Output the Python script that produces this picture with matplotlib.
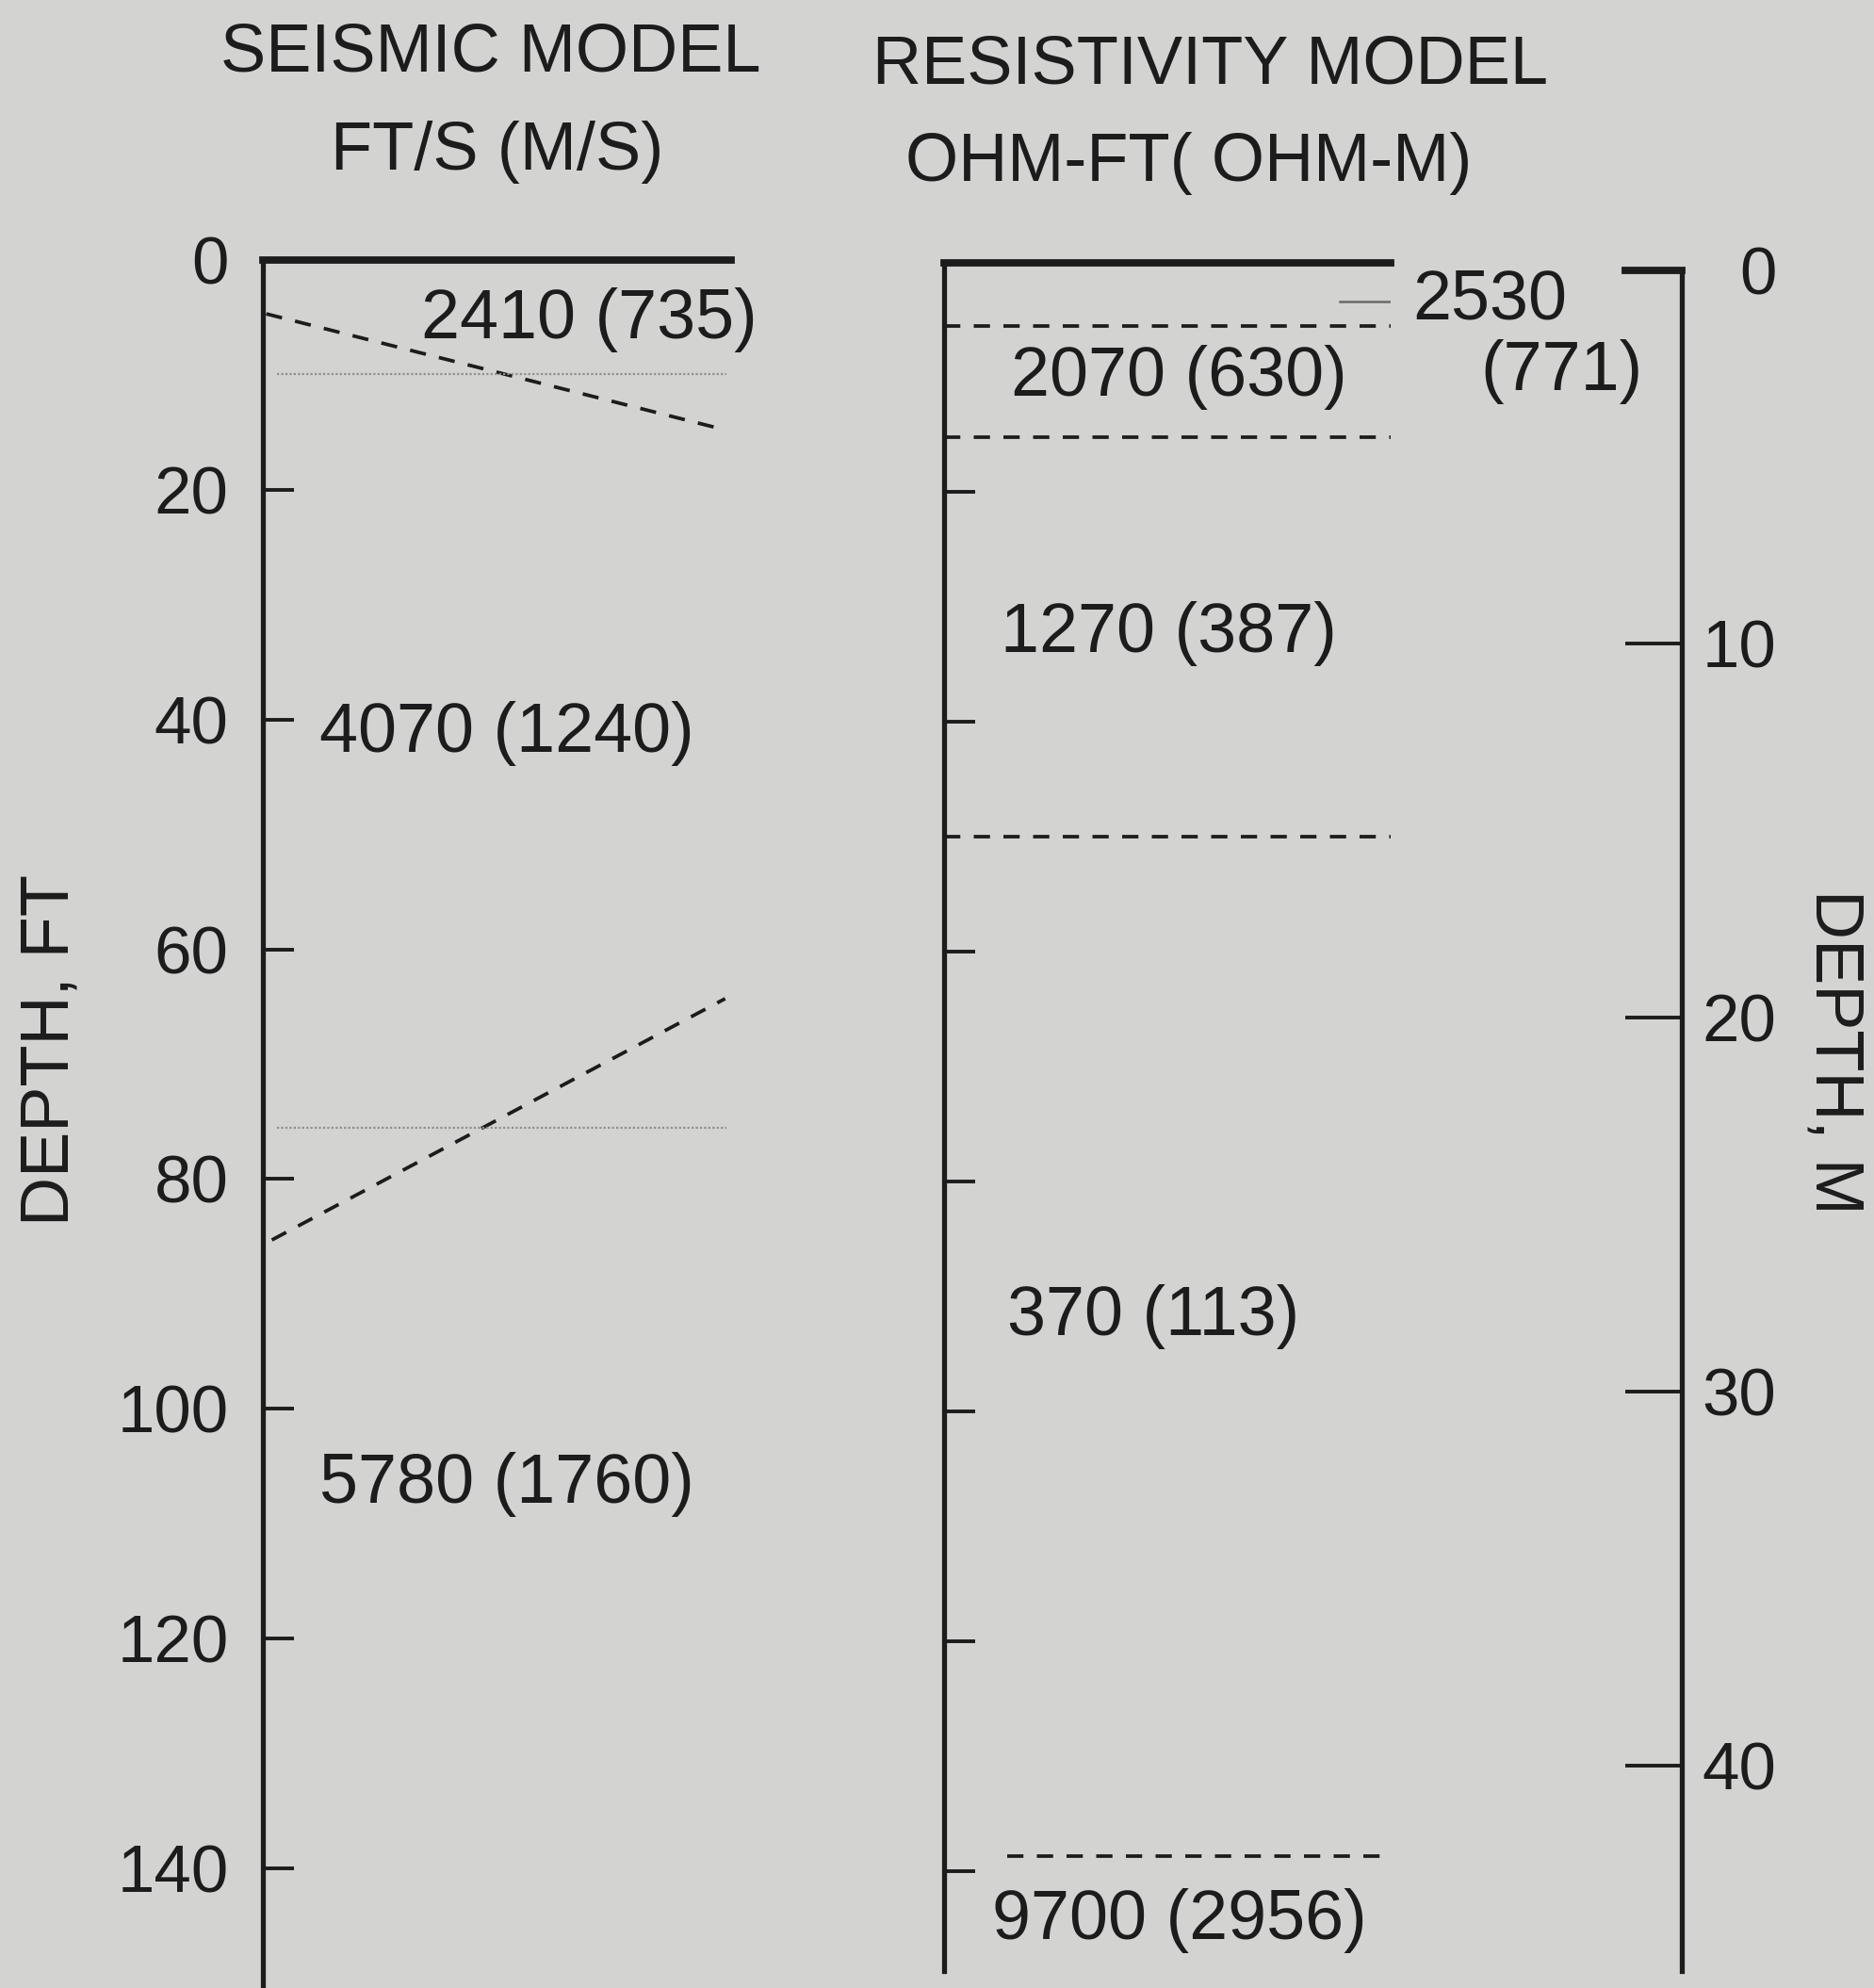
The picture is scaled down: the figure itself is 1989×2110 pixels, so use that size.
import matplotlib
matplotlib.use("Agg")
import matplotlib.pyplot as plt

plt.rcParams['font.family'] = ['Liberation Sans', 'DejaVu Sans']

BG = '#d3d3d1'
INK = '#1c1c1c'

# depth scales
ft_ticks = [0, 20, 40, 60, 80, 100, 120, 140]
m_ticks = [0, 10, 20, 30, 40]

# seismic model: dipping refractors (x as fraction of track width, depth in ft)
seis_dip_x = [[0.008, 0.987], [0.02, 0.987]]
seis_dip_z = [[4.7, 14.8], [85.3, 64.3]]
seis_flat_z = [9.9, 75.5]          # mean refractor depths
seis_labels = ['2410 (735)', '4070 (1240)', '5780 (1760)']
seis_label_x = [0.697, 0.522, 0.522]
seis_label_z = [5.2, 41.2, 106.6]

# resistivity model: layer boundaries (ft)
res_bound_z = [5.5, 15.2, 50.0, 138.7]
res_bound_x0 = [0.0, 0.0, 0.0, 0.141]
res_thin_z = 3.4
res_labels = ['2070 (630)', '1270 (387)', '370 (113)', '9700 (2956)', '2530', '(771)']
res_label_x = [0.526, 0.503, 0.469, 0.526, 1.222, 1.383]
res_label_z = [10.0, 32.3, 91.7, 144.3, 3.3, 9.5]

FS = 53

fig = plt.figure(figsize=(19.9, 21.1), dpi=100, facecolor=BG)

# --- seismic track ---
ax1 = fig.add_axes([0.140, 0.0, 0.250, 0.8693])
ax1.set_facecolor('none')
ax1.set_xlim(0, 1)
ax1.set_ylim(150.4, 0)
for s in ['right', 'bottom']:
    ax1.spines[s].set_visible(False)
ax1.spines['left'].set_linewidth(3.8)
ax1.spines['top'].set_linewidth(5.6)
for s in ['left', 'top']:
    ax1.spines[s].set_color(INK)
ax1.set_xticks([])
ax1.set_yticks(ft_ticks)
ax1.tick_params(axis='y', direction='in', length=24, width=2.8, pad=26,
                labelsize=FS - 2, colors=INK)

for xs, zs in zip(seis_dip_x, seis_dip_z):
    ax1.plot(xs, zs, color=INK, lw=2.7, linestyle=(0, (4.6, 3.8)))
for z in seis_flat_z:
    ax1.plot([0.03, 0.99], [z, z], color='#8f8f8d', lw=1.6, linestyle=(0, (1, 1)))
for t, x, z in zip(seis_labels, seis_label_x, seis_label_z):
    ax1.text(x, z, t, ha='center', va='center', fontsize=FS, color=INK)

# --- resistivity track ---
ax2 = fig.add_axes([0.5037, 0.0083, 0.238, 0.8597])
ax2.set_facecolor('none')
ax2.set_xlim(0, 1)
ax2.set_ylim(148.7, 0)
for s in ['right', 'bottom']:
    ax2.spines[s].set_visible(False)
ax2.spines['left'].set_linewidth(3.8)
ax2.spines['top'].set_linewidth(5.6)
for s in ['left', 'top']:
    ax2.spines[s].set_color(INK)
ax2.set_xticks([])
ax2.set_yticks(ft_ticks[1:])
ax2.tick_params(axis='y', direction='in', length=24, width=2.8,
                labelleft=False, colors=INK)

for z, x0 in zip(res_bound_z, res_bound_x0):
    ax2.plot([x0, 1.0], [z, z], color=INK, lw=2.7, linestyle=(0, (4.6, 3.8)))
ax2.plot([0.886, 1.0], [res_thin_z, res_thin_z], color='#6a6a68', lw=1.8)
for t, x, z in zip(res_labels, res_label_x, res_label_z):
    ax2.text(x, z, t, ha='center', va='center', fontsize=FS, color=INK,
             clip_on=False)

# --- metre scale ---
ax3 = fig.add_axes([0.8668, 0.0083, 0.0304, 0.8559])
ax3.set_facecolor('none')
ax3.set_xlim(0, 1)
ax3.set_ylim(45.5, 0)
for s in ['left', 'bottom']:
    ax3.spines[s].set_visible(False)
ax3.spines['right'].set_linewidth(3.8)
ax3.spines['top'].set_linewidth(5.6)
for s in ['right', 'top']:
    ax3.spines[s].set_color(INK)
ax3.set_xticks([])
ax3.set_yticks(m_ticks)
ax3.yaxis.tick_right()
ax3.tick_params(axis='y', direction='in', length=43, width=2.8, pad=72,
                labelsize=FS - 2, colors=INK)
plt.setp(ax3.get_yticklabels(), ha='right')

# --- headings and axis titles ---
fig.text(0.2617, 0.9732, 'SEISMIC MODEL', ha='center', va='center',
         fontsize=FS - 1, color=INK)
fig.text(0.265, 0.9235, 'FT/S (M/S)', ha='center', va='center',
         fontsize=FS - 1, color=INK)
fig.text(0.6457, 0.9668, 'RESISTIVITY MODEL', ha='center', va='center',
         fontsize=FS - 1, color=INK)
fig.text(0.634, 0.918, 'OHM-FT( OHM-M)', ha='center', va='center',
         fontsize=FS - 1, color=INK)
fig.text(0.027, 0.472, 'DEPTH, FT', ha='center', va='center', rotation=90,
         fontsize=FS - 1, color=INK)
fig.text(0.978, 0.4707, 'DEPTH, M', ha='center', va='center', rotation=270,
         fontsize=FS - 1, color=INK)

fig.savefig('out.png', dpi=100, facecolor=BG)
